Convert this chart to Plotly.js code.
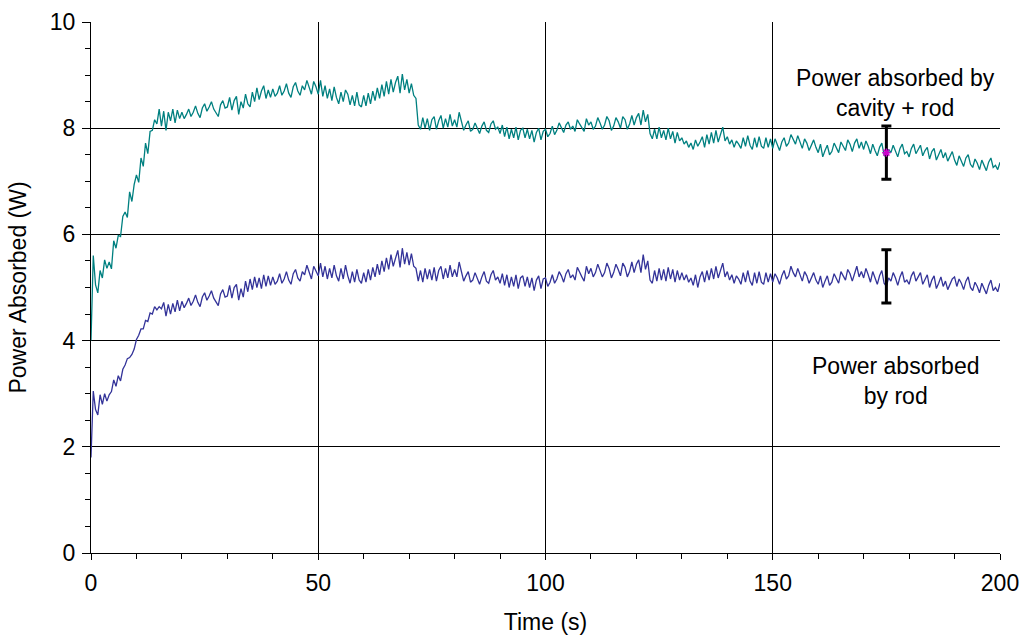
<!DOCTYPE html>
<html>
<head>
<meta charset="utf-8">
<script src="https://cdn.plot.ly/plotly-3.0.1.min.js"></script>
<style>html,body{margin:0;padding:0;background:#fff;}#chart{width:1024px;height:635px;}</style>
</head>
<body>
<div id="chart"></div>
<script>
// Sampling of the recorded traces (seconds)
const timeStart = 0;
const timeStep = 0.5;

// Power absorbed by cavity + rod (W), one value every 0.5 s from 0 to 200 s
const cavityRodPower = [
  4.00, 5.60, 5.05, 4.90, 5.32, 5.18, 5.52, 5.36, 5.48, 5.35, 5.88, 5.74, 5.98, 5.96, 6.34, 6.42, 6.32, 6.80, 6.62, 6.94,
  7.12, 6.98, 7.44, 7.28, 7.72, 7.52, 7.94, 7.96, 8.16, 8.08, 8.36, 8.04, 8.32, 7.96, 8.30, 8.14, 8.36, 8.10, 8.34, 8.18,
  8.30, 8.18, 8.26, 8.36, 8.22, 8.30, 8.42, 8.28, 8.20, 8.38, 8.46, 8.32, 8.40, 8.50, 8.36, 8.28, 8.22, 8.44, 8.52, 8.38,
  8.40, 8.58, 8.34, 8.52, 8.60, 8.26, 8.50, 8.38, 8.64, 8.46, 8.40, 8.68, 8.50, 8.76, 8.54, 8.70, 8.80, 8.56, 8.72, 8.58,
  8.74, 8.60, 8.66, 8.80, 8.62, 8.70, 8.84, 8.66, 8.58, 8.78, 8.86, 8.70, 8.62, 8.80, 8.72, 8.90, 8.76, 8.64, 8.88, 8.78,
  8.64, 8.90, 8.60, 8.80, 8.56, 8.74, 8.52, 8.78, 8.58, 8.46, 8.68, 8.50, 8.72, 8.64, 8.44, 8.62, 8.42, 8.68, 8.44, 8.40,
  8.62, 8.42, 8.66, 8.46, 8.70, 8.52, 8.76, 8.56, 8.82, 8.60, 8.88, 8.64, 8.92, 8.68, 8.86, 8.98, 8.66, 9.02, 8.72, 8.92,
  8.66, 8.84, 8.62, 8.56, 8.06, 7.98, 8.20, 8.00, 8.18, 7.96, 8.16, 8.22, 7.98, 8.14, 8.24, 8.00, 8.18, 8.02, 8.26, 8.04,
  8.16, 8.02, 8.30, 8.12, 7.96, 8.06, 8.14, 7.94, 7.98, 8.10, 8.00, 7.90, 8.04, 8.12, 7.96, 7.92, 8.08, 8.14, 7.98, 8.02,
  7.90, 8.06, 7.84, 8.02, 7.80, 7.98, 7.82, 8.02, 7.78, 7.96, 8.00, 7.82, 7.98, 7.80, 7.96, 7.74, 7.92, 8.00, 7.78, 7.94,
  7.98, 7.84, 7.90, 8.04, 7.88, 7.96, 8.10, 8.02, 7.92, 8.06, 8.12, 7.98, 8.04, 7.94, 8.16, 8.08, 8.00, 7.94, 8.18, 8.06,
  8.12, 7.98, 8.04, 8.20, 8.10, 7.98, 8.06, 8.22, 8.14, 7.96, 8.04, 8.20, 8.12, 8.00, 8.22, 8.16, 7.98, 8.08, 8.24, 8.06,
  8.20, 8.28, 8.06, 8.34, 8.12, 8.26, 7.90, 7.80, 7.98, 7.80, 8.02, 7.82, 7.96, 7.78, 8.00, 7.80, 7.94, 7.72, 7.92, 7.76,
  7.82, 7.70, 7.76, 7.64, 7.72, 7.60, 7.78, 7.66, 7.74, 7.84, 7.64, 7.88, 7.70, 7.92, 7.72, 7.96, 7.74, 7.90, 8.02, 7.76,
  7.84, 7.70, 7.78, 7.64, 7.76, 7.70, 7.62, 7.82, 7.66, 7.86, 7.68, 7.60, 7.82, 7.64, 7.84, 7.66, 7.62, 7.82, 7.64, 7.80,
  7.62, 7.80, 7.70, 7.58, 7.74, 7.82, 7.66, 7.72, 7.88, 7.78, 7.70, 7.86, 7.74, 7.62, 7.80, 7.72, 7.58, 7.68, 7.78, 7.64,
  7.54, 7.70, 7.46, 7.58, 7.68, 7.50, 7.56, 7.72, 7.62, 7.54, 7.74, 7.66, 7.58, 7.78, 7.70, 7.56, 7.72, 7.80, 7.62, 7.74,
  7.60, 7.76, 7.66, 7.52, 7.70, 7.58, 7.48, 7.64, 7.72, 7.50, 7.44, 7.60, 7.54, 7.68, 7.58, 7.46, 7.62, 7.70, 7.52, 7.56,
  7.46, 7.62, 7.70, 7.52, 7.60, 7.68, 7.48, 7.58, 7.64, 7.42, 7.56, 7.62, 7.40, 7.50, 7.60, 7.44, 7.54, 7.38, 7.48, 7.56,
  7.40, 7.30, 7.48, 7.38, 7.28, 7.44, 7.50, 7.32, 7.26, 7.42, 7.34, 7.22, 7.40, 7.30, 7.20, 7.36, 7.44, 7.26, 7.30, 7.22,
  7.36
];

// Power absorbed by rod (W), one value every 0.5 s from 0 to 200 s
const rodPower = [
  1.80, 3.05, 2.70, 2.60, 2.98, 2.80, 3.00, 2.86, 2.98, 3.04, 3.26, 3.14, 3.34, 3.24, 3.46, 3.54, 3.66, 3.68, 3.74, 3.84,
  4.02, 4.10, 4.22, 4.22, 4.38, 4.36, 4.52, 4.50, 4.64, 4.58, 4.64, 4.60, 4.72, 4.46, 4.68, 4.50, 4.70, 4.54, 4.76, 4.56,
  4.74, 4.62, 4.70, 4.80, 4.66, 4.74, 4.86, 4.72, 4.64, 4.82, 4.90, 4.76, 4.84, 4.94, 4.80, 4.72, 4.66, 4.88, 4.96, 4.82,
  4.84, 5.04, 4.80, 5.00, 5.06, 4.76, 4.98, 4.82, 5.12, 4.92, 5.16, 4.96, 5.20, 5.00, 5.18, 4.98, 5.24, 5.02, 5.22, 5.04,
  5.20, 5.06, 5.12, 5.26, 5.08, 5.16, 5.30, 5.14, 5.06, 5.26, 5.34, 5.18, 5.12, 5.30, 5.24, 5.42, 5.28, 5.16, 5.40, 5.30,
  5.22, 5.46, 5.20, 5.40, 5.16, 5.36, 5.18, 5.42, 5.22, 5.12, 5.36, 5.16, 5.42, 5.22, 5.08, 5.30, 5.10, 5.34, 5.14, 5.08,
  5.28, 5.10, 5.34, 5.14, 5.38, 5.20, 5.44, 5.24, 5.50, 5.30, 5.56, 5.34, 5.62, 5.40, 5.58, 5.70, 5.38, 5.74, 5.44, 5.66,
  5.42, 5.64, 5.40, 5.36, 5.12, 5.32, 5.10, 5.36, 5.16, 5.34, 5.14, 5.38, 5.12, 5.32, 5.40, 5.16, 5.36, 5.18, 5.42, 5.20,
  5.34, 5.20, 5.48, 5.30, 5.12, 5.22, 5.30, 5.10, 5.14, 5.28, 5.18, 5.06, 5.20, 5.30, 5.12, 5.08, 5.24, 5.32, 5.14, 5.20,
  5.08, 5.26, 5.04, 5.24, 5.00, 5.20, 5.02, 5.24, 4.98, 5.18, 5.22, 5.02, 5.20, 5.00, 5.18, 4.94, 5.14, 5.22, 4.98, 5.16,
  5.18, 5.02, 5.10, 5.24, 5.08, 5.16, 5.30, 5.22, 5.10, 5.26, 5.34, 5.18, 5.24, 5.14, 5.38, 5.28, 5.20, 5.12, 5.40, 5.26,
  5.36, 5.20, 5.28, 5.44, 5.32, 5.20, 5.28, 5.46, 5.36, 5.18, 5.28, 5.44, 5.34, 5.22, 5.46, 5.38, 5.20, 5.30, 5.48, 5.28,
  5.44, 5.52, 5.28, 5.62, 5.34, 5.50, 5.14, 5.08, 5.32, 5.12, 5.36, 5.14, 5.34, 5.12, 5.38, 5.16, 5.34, 5.10, 5.32, 5.14,
  5.28, 5.14, 5.24, 5.10, 5.18, 5.04, 5.24, 5.00, 5.20, 5.30, 5.10, 5.32, 5.14, 5.36, 5.16, 5.40, 5.18, 5.34, 5.46, 5.20,
  5.30, 5.14, 5.24, 5.08, 5.22, 5.16, 5.06, 5.28, 5.10, 5.32, 5.12, 5.04, 5.28, 5.08, 5.30, 5.10, 5.06, 5.28, 5.10, 5.26,
  5.10, 5.26, 5.18, 5.06, 5.22, 5.32, 5.16, 5.22, 5.40, 5.28, 5.20, 5.36, 5.24, 5.12, 5.30, 5.22, 5.08, 5.18, 5.28, 5.14,
  5.06, 5.22, 5.00, 5.12, 5.22, 5.04, 5.10, 5.26, 5.18, 5.08, 5.30, 5.22, 5.14, 5.34, 5.26, 5.12, 5.28, 5.40, 5.20, 5.30,
  5.18, 5.36, 5.24, 5.10, 5.30, 5.16, 5.06, 5.22, 5.32, 5.08, 5.02, 5.18, 5.12, 5.28, 5.18, 5.04, 5.20, 5.30, 5.10, 5.14,
  5.06, 5.22, 5.30, 5.12, 5.20, 5.28, 5.06, 5.16, 5.24, 5.00, 5.14, 5.22, 4.98, 5.08, 5.20, 5.02, 5.12, 4.96, 5.06, 5.16,
  5.20, 5.02, 5.16, 5.08, 4.96, 5.12, 5.20, 5.00, 4.94, 5.10, 5.02, 4.90, 5.08, 4.98, 4.88, 5.04, 5.14, 4.94, 5.00, 4.92,
  5.08
];

// Error-bar markers at t = 175 s
const errTime = [175];
const cavityRodErrCenter = [7.54];
const rodErrCenter = [5.21];
const errHalfWidth = [0.5];

// Labels
const xTitle = 'Time (s)';
const yTitle = 'Power Absorbed (W)';
const cavityRodLabel = 'Power absorbed by<br>cavity + rod';
const rodLabel = 'Power absorbed<br>by rod';
const xTickVals = [0, 50, 100, 150, 200];
const yTickVals = [0, 2, 4, 6, 8, 10];

const FONT = 'Arial, "Liberation Sans", sans-serif';
const FS = 23;

const traces = [
  {
    type: 'scatter', mode: 'lines', name: 'Power absorbed by rod',
    x0: timeStart, dx: timeStep, y: rodPower,
    line: {color: '#333399', width: 1.3}
  },
  {
    type: 'scatter', mode: 'lines', name: 'Power absorbed by cavity + rod',
    x0: timeStart, dx: timeStep, y: cavityRodPower,
    line: {color: '#008080', width: 1.3}
  },
  {
    type: 'scatter', mode: 'markers', showlegend: false,
    x: errTime, y: cavityRodErrCenter,
    marker: {symbol: 'asterisk', size: 7, color: '#cc00cc', line: {color: '#cc00cc', width: 1.5}},
    error_y: {type: 'data', array: errHalfWidth, visible: true, color: '#000000', thickness: 3, width: 5}
  },
  {
    type: 'scatter', mode: 'markers', showlegend: false,
    x: errTime, y: rodErrCenter,
    marker: {size: 1, color: 'rgba(0,0,0,0)'},
    error_y: {type: 'data', array: errHalfWidth, visible: true, color: '#000000', thickness: 3, width: 5}
  }
];

const layout = {
  width: 1024, height: 635,
  margin: {l: 91, r: 24, t: 22, b: 82},
  paper_bgcolor: '#ffffff', plot_bgcolor: '#ffffff',
  showlegend: false,
  font: {family: FONT, size: FS, color: '#000000'},
  xaxis: {
    range: [0, 200], tickvals: xTickVals, ticktext: xTickVals.map(String),
    ticks: 'outside', ticklen: 6, tickwidth: 1, tickcolor: '#000',
    ticklabelstandoff: 3,
    showline: true, linecolor: '#000', linewidth: 1, mirror: false,
    showgrid: true, gridcolor: '#000', gridwidth: 1, zeroline: false,
    minor: {dtick: 10, ticks: 'outside', ticklen: 5, tickcolor: '#000', showgrid: false},
    tickfont: {family: FONT, size: FS, color: '#000'},
    title: {text: xTitle, font: {family: FONT, size: FS, color: '#000'}, standoff: 22},
    fixedrange: true
  },
  yaxis: {
    range: [0, 10], tickvals: yTickVals, ticktext: yTickVals.map(String),
    ticks: 'outside', ticklen: 8, tickwidth: 1, tickcolor: '#000',
    ticklabelstandoff: 2,
    showline: true, linecolor: '#000', linewidth: 1, mirror: false,
    showgrid: true, gridcolor: '#000', gridwidth: 1, zeroline: false,
    minor: {dtick: 0.5, ticks: 'outside', ticklen: 5, tickcolor: '#000', showgrid: false},
    tickfont: {family: FONT, size: FS, color: '#000'},
    title: {text: yTitle, font: {family: FONT, size: FS, color: '#000'}, standoff: 16},
    fixedrange: true
  },
  annotations: [
    {xref: 'paper', yref: 'paper', x: 0.885, y: 0.866, xanchor: 'center', yanchor: 'middle',
     text: cavityRodLabel, showarrow: false, align: 'center',
     font: {family: FONT, size: FS, color: '#000'}},
    {xref: 'paper', yref: 'paper', x: 0.886, y: 0.324, xanchor: 'center', yanchor: 'middle',
     text: rodLabel, showarrow: false, align: 'center',
     font: {family: FONT, size: FS, color: '#000'}}
  ]
};

Plotly.newPlot('chart', traces, layout, {displayModeBar: false, staticPlot: true});
</script>
</body>
</html>
